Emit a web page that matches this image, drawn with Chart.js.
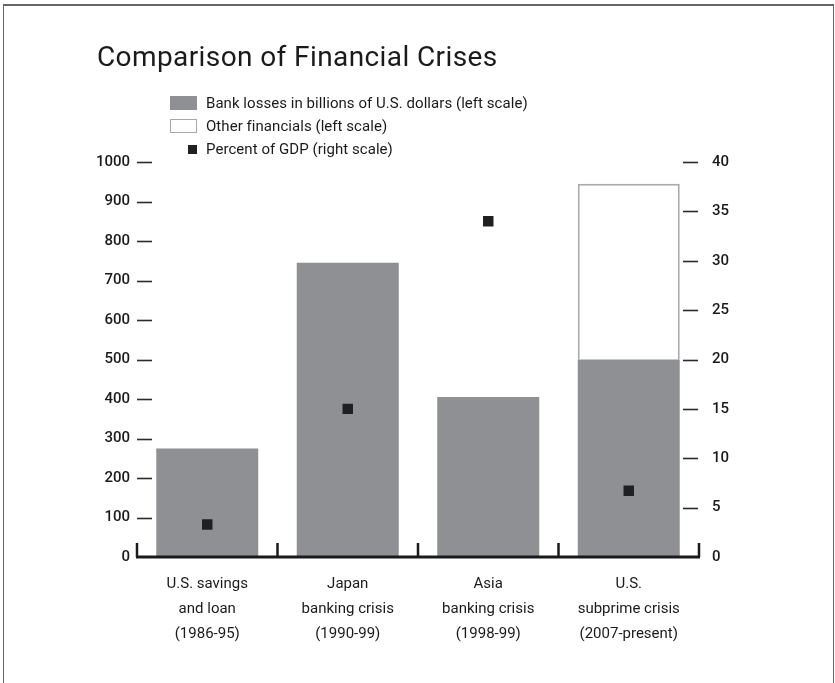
<!DOCTYPE html>
<html>
<head>
<meta charset="utf-8">
<title>Comparison of Financial Crises</title>
<script src="https://cdn.jsdelivr.net/npm/chart.js@4"></script>
<style>
  html, body { margin: 0; padding: 0; background: #fff; }
  body { width: 835px; height: 683px; position: relative; overflow: hidden; font-family: Roboto, "DejaVu Sans", sans-serif; color: #1a1a1a; }
  .frame { position: absolute; left: 3px; top: 4px; width: 829px; height: 720px; border: 1px solid #666; border-top-width: 2px; }
  #chart { position: absolute; left: 0; top: 0; }
  h1 { position: absolute; left: 97px; top: 40px; margin: 0; font-size: 28px; font-weight: 400; letter-spacing: 0.4px; }
  .legend { position: absolute; left: 170px; top: 92px; font-size: 15px; letter-spacing: 0.05px; }
  .legend div { height: 23px; line-height: 22px; position: relative; padding-left: 36px; }
  .legend span { position: absolute; }
  .sw-bank { left: 0; top: 4px; width: 27px; height: 14px; background: #8e9093; }
  .sw-other { left: 0; top: 4px; width: 25px; height: 12px; border: 1px solid #a8a8a8; background: #fff; }
  .sw-gdp { left: 18px; top: 7px; width: 9px; height: 9px; background: #1f2022; }
</style>
</head>
<body>
<div class="frame"></div>
<canvas id="chart" width="835" height="683"></canvas>
<h1>Comparison of Financial Crises</h1>
<div class="legend">
  <div><span class="sw-bank"></span>Bank losses in billions of U.S. dollars (left scale)</div>
  <div><span class="sw-other"></span>Other financials (left scale)</div>
  <div><span class="sw-gdp"></span>Percent of GDP (right scale)</div>
</div>
<script>
// Crisis names, split over three lines under each bar
const crises = [
    ['U.S. savings', 'and loan', '(1986-95)'],
    ['Japan', 'banking crisis', '(1990-99)'],
    ['Asia', 'banking crisis', '(1998-99)'],
    ['U.S.', 'subprime crisis', '(2007-present)']
];

// Billions of U.S. dollars (left scale)
const bankLosses = [275, 745, 405, 500];
const otherFinancials = [null, null, null, 445];

// Percent of GDP (right scale)
const gdpPercent = [3.3, 15, 34, 6.7];

const leftTicks = [0, 100, 200, 300, 400, 500, 600, 700, 800, 900, 1000];
const rightTicks = [0, 5, 10, 15, 20, 25, 30, 35, 40];

const INK = '#1a1a1a';

// Short dashes on both value axes plus the bracketed baseline
const axisMarks = {
    id: 'axisMarks',
    afterDatasetsDraw(chart) {
        const { ctx, chartArea, scales } = chart;
        const { x, y, y1 } = scales;
        ctx.save();
        ctx.strokeStyle = '#2b2b2b';
        ctx.lineWidth = 1.6;

        leftTicks.forEach(v => {
            if (v === 0) return;
            const py = Math.round(y.getPixelForValue(v)) + 0.5;
            ctx.beginPath();
            ctx.moveTo(chartArea.left, py);
            ctx.lineTo(chartArea.left + 15, py);
            ctx.stroke();
        });
        rightTicks.forEach(v => {
            if (v === 0) return;
            const py = Math.round(y1.getPixelForValue(v)) + 0.5;
            ctx.beginPath();
            ctx.moveTo(chartArea.right - 16, py);
            ctx.lineTo(chartArea.right - 1, py);
            ctx.stroke();
        });

        // baseline with a tick between each crisis
        const base = y.getPixelForValue(0);
        ctx.strokeStyle = INK;
        ctx.lineWidth = 3;
        ctx.beginPath();
        ctx.moveTo(chartArea.left - 1, base);
        ctx.lineTo(chartArea.right + 1, base);
        ctx.stroke();

        ctx.lineWidth = 2.5;
        const n = crises.length;
        for (let i = 0; i <= n; i++) {
            let px;
            if (i === 0) px = chartArea.left;
            else if (i === n) px = chartArea.right;
            else px = (x.getPixelForValue(i - 1) + x.getPixelForValue(i)) / 2;
            ctx.beginPath();
            ctx.moveTo(px, base);
            ctx.lineTo(px, base - 14);
            ctx.stroke();
        }
        ctx.restore();
    }
};

new Chart(document.getElementById('chart'), {
    type: 'bar',
    data: {
        labels: crises,
        datasets: [
            {
                type: 'line',
                label: 'Percent of GDP (right scale)',
                data: gdpPercent,
                yAxisID: 'y1',
                showLine: false,
                pointStyle: 'rect',
                pointRadius: 7.4,
                pointBackgroundColor: '#1f2022',
                pointBorderWidth: 0,
                order: 0
            },
            {
                label: 'Bank losses in billions of U.S. dollars (left scale)',
                data: bankLosses,
                backgroundColor: '#8e9093',
                borderWidth: 0,
                stack: 'losses',
                order: 1
            },
            {
                label: 'Other financials (left scale)',
                data: otherFinancials,
                backgroundColor: '#ffffff',
                borderColor: '#ababab',
                borderWidth: 2,
                borderSkipped: 'start',
                stack: 'losses',
                order: 1
            }
        ]
    },
    options: {
        responsive: false,
        animation: false,
        layout: { padding: { left: 77, right: 76, top: 162, bottom: 36 } },
        plugins: {
            legend: { display: false },
            tooltip: { enabled: false }
        },
        datasets: {
            bar: { barPercentage: 0.726, categoryPercentage: 1 }
        },
        scales: {
            x: {
                stacked: true,
                offset: true,
                grid: { display: false, drawTicks: false },
                border: { display: false },
                ticks: {
                    color: INK,
                    padding: 15,
                    maxRotation: 0,
                    font: { family: 'Roboto', size: 15, lineHeight: '25px' }
                },
                afterFit(scale) { scale.height = 90; }
            },
            y: {
                stacked: true,
                min: 0,
                max: 1000,
                grid: { display: false, drawTicks: false },
                border: { display: false },
                afterBuildTicks(scale) { scale.ticks = leftTicks.map(v => ({ value: v })); },
                ticks: {
                    color: INK,
                    padding: 7,
                    callback: v => String(v),
                    font: { family: 'Roboto', size: 15, weight: '500' }
                },
                afterFit(scale) { scale.width = 60; }
            },
            y1: {
                position: 'right',
                min: 0,
                max: 40,
                grid: { display: false, drawTicks: false },
                border: { display: false },
                afterBuildTicks(scale) { scale.ticks = rightTicks.map(v => ({ value: v })); },
                ticks: {
                    color: INK,
                    padding: 13,
                    callback: v => String(v),
                    font: { family: 'Roboto', size: 15, weight: '500' }
                },
                afterFit(scale) { scale.width = 60; }
            }
        }
    },
    plugins: [axisMarks]
});
</script>
</body>
</html>
